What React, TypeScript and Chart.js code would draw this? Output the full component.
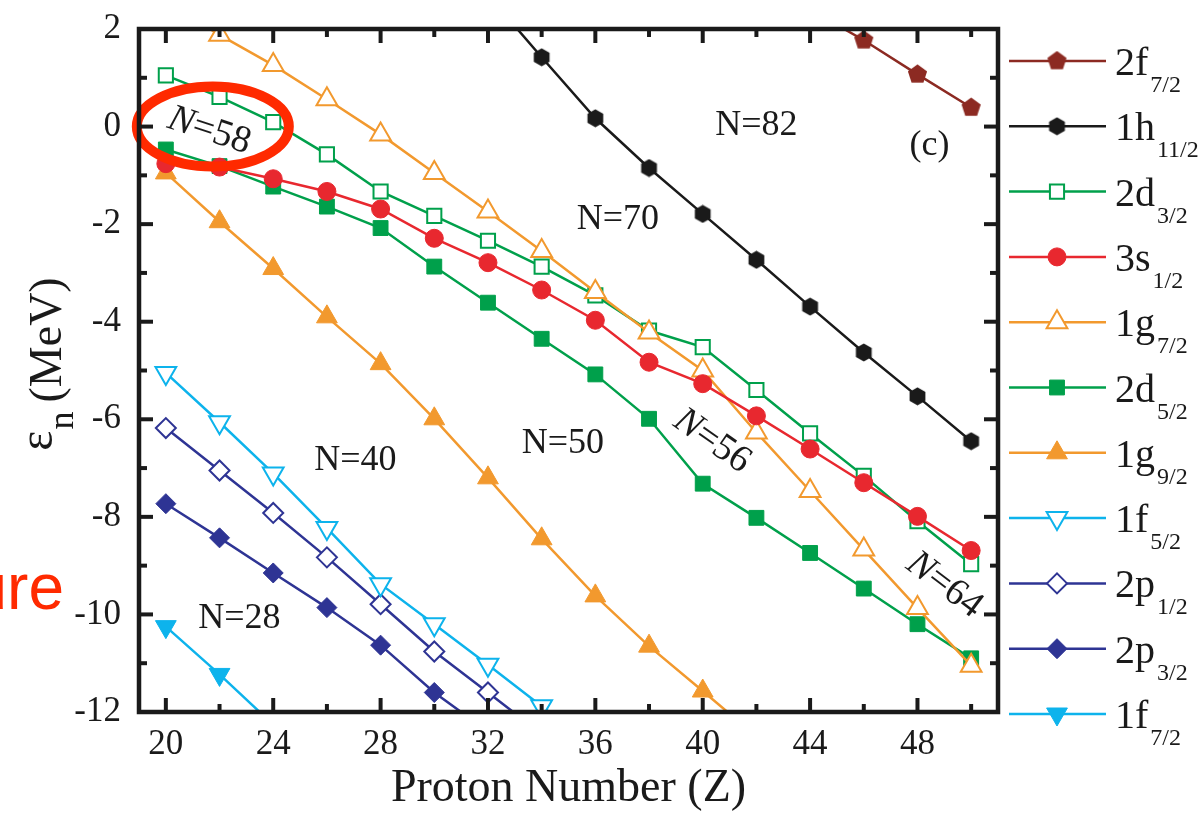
import { useEffect, useRef } from 'react';
import { Chart, registerables } from 'chart.js';
import { drawPoint } from 'chart.js/helpers';

Chart.register(...registerables);

const SERIF = '"Liberation Serif", "Times New Roman", serif';
const INK = '#1a1a1a';
const BROWN = '#8c2a22';
const BLACK = '#1a1a1a';
const GREEN = '#00a04b';
const RED = '#e8282f';
const ORANGE = '#f2992e';
const SKY = '#0db3ec';
const NAVY = '#2e3494';
const MARK_RED = '#ff2a00';

// Proton number Z of each calculated nucleus
const protonNumbers = [20, 22, 24, 26, 28, 30, 32, 34, 36, 38, 40, 42, 44, 46, 48, 50];

// Neutron single-particle energies (MeV) per orbital, one entry per Z above
const level2f72 = [null, null, null, null, null, null, null, null, null, null, null, null, 2.4, 1.77, 1.07, 0.39];
const level1h112 = [null, null, null, null, null, null, 2.7, 1.42, 0.17, -0.85, -1.79, -2.73, -3.69, -4.63, -5.53, -6.45];
const level2d32 = [1.05, 0.61, 0.09, -0.57, -1.33, -1.83, -2.34, -2.87, -3.46, -4.18, -4.52, -5.4, -6.29, -7.16, -8.09, -8.97];
const level3s12 = [-0.76, -0.83, -1.07, -1.33, -1.69, -2.29, -2.79, -3.35, -3.97, -4.83, -5.27, -5.93, -6.61, -7.3, -7.99, -8.69];
const level1g72 = [2.55, 1.88, 1.26, 0.56, -0.16, -0.95, -1.74, -2.55, -3.39, -4.22, -5.0, -6.27, -7.47, -8.67, -9.87, -11.05];
const level2d52 = [-0.47, -0.81, -1.23, -1.64, -2.08, -2.87, -3.61, -4.35, -5.08, -5.99, -7.32, -8.02, -8.74, -9.47, -10.2, -10.9];
const level1g92 = [-0.95, -1.95, -2.91, -3.9, -4.86, -5.99, -7.2, -8.45, -9.62, -10.65, -11.57, -12.5, null, null, null, null];
const level1f52 = [-5.05, -6.06, -7.11, -8.23, -9.38, -10.2, -11.03, -11.88, -12.73, null, null, null, null, null, null, null];
const level2p12 = [-6.18, -7.05, -7.92, -8.83, -9.79, -10.76, -11.6, -12.45, null, null, null, null, null, null, null, null];
const level2p32 = [-7.73, -8.43, -9.15, -9.86, -10.63, -11.6, -12.4, null, null, null, null, null, null, null, null, null];
const level1f72 = [-10.25, -11.23, -12.26, null, null, null, null, null, null, null, null, null, null, null, null, null];

// Orbital names (main part and j subscript), in legend order
const orbitalNames = ['2f', '1h', '2d', '3s', '1g', '2d', '1g', '1f', '2p', '2p', '1f'];
const orbitalJ = ['7/2', '11/2', '3/2', '1/2', '7/2', '5/2', '9/2', '5/2', '1/2', '3/2', '7/2'];
const orbitalLevels = [level2f72, level1h112, level2d32, level3s12, level1g72, level2d52, level1g92, level1f52, level2p12, level2p32, level1f72];

// Axis ticks
const xMajorTicks = [20, 24, 28, 32, 36, 40, 44, 48];
const xMinorTicks = [22, 26, 30, 34, 38, 42, 46, 50];
const yMajorTicks = [-12, -10, -8, -6, -4, -2, 0, 2];
const yMinorTicks = [-11, -9, -7, -5, -3, -1, 1];

// Shell-gap labels: text, Z, energy, rotation (deg), italic N
const gapLabelText = ['N=82', 'N=70', 'N=50', 'N=40', 'N=28', 'N=56', 'N=64', 'N=58', '(c)'];
const gapLabelZ = [42.0, 36.84, 34.79, 27.06, 22.74, 40.35, 49.0, 21.62, 48.45];
const gapLabelE = [0.03, -1.9, -6.5, -6.85, -10.09, -6.45, -9.4, -0.09, -0.39];
const gapLabelAngle = [0, 0, 0, 0, 0, 35, 37, 18, 0];
const gapLabelItalicN = [false, false, false, false, false, true, true, true, false];

function polygonMarker(sides: number, size: number, color: string, start: number) {
  const c = document.createElement('canvas');
  c.width = size;
  c.height = size;
  const g = c.getContext('2d')!;
  const r = size / 2;
  g.beginPath();
  for (let i = 0; i < sides; i++) {
    const a = start + (i * 2 * Math.PI) / sides;
    const px = r + r * 0.96 * Math.cos(a);
    const py = r + r * 0.96 * Math.sin(a);
    if (i === 0) g.moveTo(px, py);
    else g.lineTo(px, py);
  }
  g.closePath();
  g.fillStyle = color;
  g.fill();
  return c;
}

const decorPlugin = {
  id: 'levelDecor',
  afterDatasetsDraw(chart: any) {
    const { ctx, chartArea: a, scales } = chart;
    const x = scales.x;
    const y = scales.y;
    ctx.save();

    // shell-gap labels
    ctx.fillStyle = INK;
    ctx.textBaseline = 'middle';
    gapLabelText.forEach((t, i) => {
      const px = x.getPixelForValue(gapLabelZ[i]);
      const py = y.getPixelForValue(gapLabelE[i]);
      ctx.save();
      ctx.translate(px, py);
      ctx.rotate((gapLabelAngle[i] * Math.PI) / 180);
      if (gapLabelItalicN[i]) {
        ctx.font = `italic 38px ${SERIF}`;
        const head = t.slice(0, 1);
        const wHead = ctx.measureText(head).width;
        ctx.font = `38px ${SERIF}`;
        const tail = t.slice(1);
        const wTail = ctx.measureText(tail).width;
        const x0 = -(wHead + wTail) / 2;
        ctx.textAlign = 'left';
        ctx.font = `italic 38px ${SERIF}`;
        ctx.fillText(head, x0, 0);
        ctx.font = `38px ${SERIF}`;
        ctx.fillText(tail, x0 + wHead, 0);
      } else {
        ctx.font = `36px ${SERIF}`;
        ctx.textAlign = 'center';
        ctx.fillText(t, 0, 0);
      }
      ctx.restore();
    });

    // red ellipse around the N=58 label
    ctx.strokeStyle = MARK_RED;
    ctx.lineWidth = 10;
    ctx.beginPath();
    ctx.ellipse(x.getPixelForValue(21.75), y.getPixelForValue(0), 76, 40, 0, 0, Math.PI * 2);
    ctx.stroke();

    // inward ticks on all four sides
    ctx.strokeStyle = INK;
    ctx.lineWidth = 4;
    ctx.lineCap = 'butt';
    const seg = (x1: number, y1: number, x2: number, y2: number) => {
      ctx.beginPath();
      ctx.moveTo(x1, y1);
      ctx.lineTo(x2, y2);
      ctx.stroke();
    };
    const major = 14;
    const minor = 8;
    xMajorTicks.forEach((v) => {
      const p = x.getPixelForValue(v);
      seg(p, a.bottom, p, a.bottom - major);
      seg(p, a.top, p, a.top + major);
    });
    xMinorTicks.forEach((v) => {
      const p = x.getPixelForValue(v);
      seg(p, a.bottom, p, a.bottom - minor);
      seg(p, a.top, p, a.top + minor);
    });
    yMajorTicks.forEach((v) => {
      const p = y.getPixelForValue(v);
      seg(a.left, p, a.left + major, p);
      seg(a.right, p, a.right - major, p);
    });
    yMinorTicks.forEach((v) => {
      const p = y.getPixelForValue(v);
      seg(a.left, p, a.left + minor, p);
      seg(a.right, p, a.right - minor, p);
    });

    // frame
    ctx.lineWidth = 4.5;
    ctx.lineJoin = 'miter';
    ctx.strokeRect(a.left, a.top, a.right - a.left, a.bottom - a.top);
    ctx.restore();
  },
  afterDraw(chart: any) {
    const { ctx } = chart;
    ctx.save();

    // legend with subscripted orbital names
    const datasets = chart.data.datasets;
    orbitalNames.forEach((name, i) => {
      const ds = datasets[i];
      const yy = 61 + i * 65.3;
      ctx.strokeStyle = ds.borderColor;
      ctx.lineWidth = 2.5;
      ctx.beginPath();
      ctx.moveTo(1009, yy);
      ctx.lineTo(1106, yy);
      ctx.stroke();
      ctx.fillStyle = ds.pointBackgroundColor;
      ctx.strokeStyle = ds.pointBorderColor;
      ctx.lineWidth = ds.pointBorderWidth;
      drawPoint(ctx, {
        pointStyle: ds.pointStyle,
        rotation: ds.pointRotation || 0,
        radius: ds.pointRadius,
        borderWidth: ds.pointBorderWidth,
      } as any, 1057, yy);
      ctx.fillStyle = INK;
      ctx.textAlign = 'left';
      ctx.textBaseline = 'alphabetic';
      ctx.font = `40px ${SERIF}`;
      ctx.fillText(name, 1115, yy + 14);
      const w = ctx.measureText(name).width;
      ctx.font = `24px ${SERIF}`;
      ctx.fillText(orbitalJ[i], 1115 + w + 2, yy + 31);
    });

    // y-axis title: epsilon with subscript n
    ctx.fillStyle = INK;
    ctx.textAlign = 'left';
    ctx.textBaseline = 'alphabetic';
    ctx.translate(61, 0);
    ctx.rotate(-Math.PI / 2);
    ctx.font = `48px ${SERIF}`;
    const wEps = ctx.measureText('ε').width;
    ctx.font = `36px ${SERIF}`;
    const wN = ctx.measureText('n').width;
    ctx.font = `46px ${SERIF}`;
    const wUnit = ctx.measureText('(MeV)').width;
    const total = wEps + 1 + wN + 9 + wUnit;
    let u = -364 - total / 2;
    ctx.font = `48px ${SERIF}`;
    ctx.fillText('ε', u, -9);
    u += wEps + 1;
    ctx.font = `36px ${SERIF}`;
    ctx.fillText('n', u, 12);
    u += wN + 9;
    ctx.font = `46px ${SERIF}`;
    ctx.fillText('(MeV)', u, 0);
    ctx.restore();

    // cropped caption word at the left edge
    ctx.save();
    ctx.fillStyle = MARK_RED;
    ctx.font = '64px "Liberation Sans", Arial, sans-serif';
    ctx.textAlign = 'right';
    ctx.textBaseline = 'alphabetic';
    ctx.fillText('ure', 64, 609);
    ctx.restore();
  },
};

export default function App() {
  const ref = useRef<HTMLCanvasElement>(null);

  useEffect(() => {
    const canvas = ref.current!;
    const pentagon = polygonMarker(5, 21, BROWN, -Math.PI / 2);
    const hexagon = polygonMarker(6, 19, BLACK, -Math.PI / 2);

    // marker styles in legend order; `order` sets stacking (lower on top)
    const looks: any[] = [
      { color: BROWN, style: pentagon, r: 10, fill: BROWN, bw: 0, order: 6 },
      { color: BLACK, style: hexagon, r: 10, fill: BLACK, bw: 0, order: 5 },
      { color: GREEN, style: 'rect', r: 10, fill: '#ffffff', bw: 2, order: 2 },
      { color: RED, style: 'circle', r: 9, fill: RED, bw: 1, order: 0 },
      { color: ORANGE, style: 'triangle', r: 12, fill: '#ffffff', bw: 2, order: 1 },
      { color: GREEN, style: 'rect', r: 10.5, fill: GREEN, bw: 1, order: 3 },
      { color: ORANGE, style: 'triangle', r: 12, fill: ORANGE, bw: 1, order: 4 },
      { color: SKY, style: 'triangle', r: 12, fill: '#ffffff', bw: 2, rot: 180, order: 7 },
      { color: NAVY, style: 'rectRot', r: 10, fill: '#ffffff', bw: 2, order: 8 },
      { color: NAVY, style: 'rectRot', r: 10, fill: NAVY, bw: 1, order: 9 },
      { color: SKY, style: 'triangle', r: 12, fill: SKY, bw: 1, rot: 180, order: 10 },
    ];

    const datasets = orbitalLevels.map((levels, i) => {
      const lk = looks[i];
      return {
        label: orbitalNames[i] + orbitalJ[i],
        data: protonNumbers
          .map((z, k) => ({ x: z, y: levels[k] }))
          .filter((p) => p.y !== null),
        borderColor: lk.color,
        borderWidth: 2.5,
        pointStyle: lk.style,
        pointRadius: lk.r,
        pointHoverRadius: lk.r,
        pointRotation: lk.rot || 0,
        pointBackgroundColor: lk.fill,
        pointBorderColor: lk.color,
        pointBorderWidth: lk.bw,
        order: lk.order,
        clip: 0,
        tension: 0,
        fill: false,
      };
    });

    const chart = new Chart(canvas, {
      type: 'line',
      data: { datasets },
      options: {
        animation: false,
        responsive: false,
        devicePixelRatio: 1,
        layout: { padding: { top: 29, right: 205, left: 0, bottom: 0 } },
        plugins: {
          legend: { display: false },
          tooltip: { enabled: false },
        },
        scales: {
          x: {
            type: 'linear',
            min: 19,
            max: 51,
            grid: { display: false, drawTicks: false },
            border: { display: false },
            afterBuildTicks: (s: any) => {
              s.ticks = xMajorTicks.map((v) => ({ value: v }));
            },
            afterFit: (s: any) => {
              s.height = 101;
              s.paddingLeft = 0;
              s.paddingRight = 0;
            },
            ticks: {
              color: INK,
              padding: 12,
              maxRotation: 0,
              autoSkip: false,
              font: { family: SERIF, size: 35 },
              callback: (v: any) => String(v),
            },
            title: {
              display: true,
              text: 'Proton Number (Z)',
              color: INK,
              font: { family: SERIF, size: 46, lineHeight: 1.05 },
              padding: { top: 0, bottom: 0 },
            },
          },
          y: {
            type: 'linear',
            min: -12,
            max: 2,
            grid: { display: false, drawTicks: false },
            border: { display: false },
            afterBuildTicks: (s: any) => {
              s.ticks = yMajorTicks.map((v) => ({ value: v }));
            },
            afterFit: (s: any) => {
              s.width = 139;
              s.paddingTop = 0;
              s.paddingBottom = 0;
            },
            ticks: {
              color: INK,
              padding: 18,
              autoSkip: false,
              font: { family: SERIF, size: 35 },
              callback: (v: any) => String(v),
            },
          },
        },
      } as any,
      plugins: [decorPlugin],
    });

    return () => chart.destroy();
  }, []);

  return (
    <div style={{ position: 'absolute', left: 0, top: 0, width: 1203, height: 813, background: '#ffffff' }}>
      <canvas ref={ref} width={1203} height={813} style={{ display: 'block', width: 1203, height: 813 }} />
    </div>
  );
}
